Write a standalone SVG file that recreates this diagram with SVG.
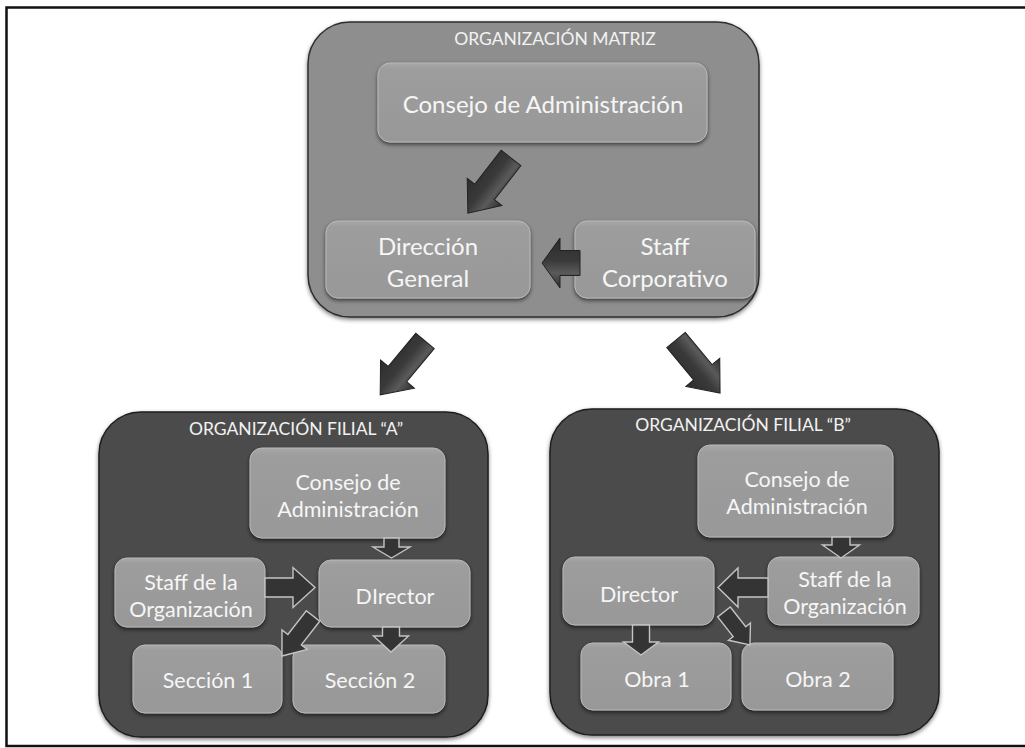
<svg xmlns="http://www.w3.org/2000/svg" width="1025" height="748" viewBox="0 0 1025 748">
  <style>
    .frame { fill: #ffffff; stroke: #111111; stroke-width: 2.5; }
    .org-main { fill: #8e8e8e; stroke: #2e2e2e; stroke-width: 1.5; filter: url(#shadow-lg); }
    .org-sub { fill: #4c4c4c; stroke: #1e1e1e; stroke-width: 1.5; filter: url(#shadow-lg); }
    .box { fill: url(#box-fill); stroke: #b8b8b8; stroke-width: 1; filter: url(#shadow); }
    .title { font-family: Lato, "Liberation Sans", sans-serif; font-size: 17.5px; fill: #f2f2f2; text-anchor: middle; }
    .lbl-lg { font-family: Lato, "Liberation Sans", sans-serif; font-size: 24px; fill: #f6f6f6; text-anchor: middle; }
    .lbl { font-family: Lato, "Liberation Sans", sans-serif; font-size: 21.5px; fill: #f6f6f6; text-anchor: middle; }
    .arrow-big { fill: url(#arrow-fill); stroke: #222222; stroke-width: 1; }
    .arrow-sm { fill: #343434; stroke: #c4c4c4; stroke-width: 1.4; }
  </style>
  <defs>
    <linearGradient id="box-fill" x1="0" y1="0" x2="0" y2="1">
      <stop offset="0" stop-color="#a8a8a8"/>
      <stop offset="0.08" stop-color="#9d9d9d"/>
      <stop offset="1" stop-color="#989898"/>
    </linearGradient>
    <linearGradient id="arrow-fill" x1="0" y1="0" x2="0" y2="1">
      <stop offset="0" stop-color="#2e2e2e"/>
      <stop offset="0.3" stop-color="#5a5a5a"/>
      <stop offset="0.55" stop-color="#3a3a3a"/>
      <stop offset="1" stop-color="#2c2c2c"/>
    </linearGradient>
    <filter id="shadow" x="-10%" y="-10%" width="120%" height="130%">
      <feGaussianBlur in="SourceAlpha" stdDeviation="2"/>
      <feOffset dx="0" dy="2" result="b"/>
      <feComponentTransfer><feFuncA type="linear" slope="0.6"/></feComponentTransfer>
      <feMerge><feMergeNode/><feMergeNode in="SourceGraphic"/></feMerge>
    </filter>
    <filter id="shadow-lg" x="-5%" y="-5%" width="110%" height="112%">
      <feGaussianBlur in="SourceAlpha" stdDeviation="2"/>
      <feOffset dx="0" dy="2" result="b"/>
      <feComponentTransfer><feFuncA type="linear" slope="0.5"/></feComponentTransfer>
      <feMerge><feMergeNode/><feMergeNode in="SourceGraphic"/></feMerge>
    </filter>
  </defs>

  <!-- outer frame (right edge runs off the canvas) -->
  <rect class="frame" x="6.5" y="7.5" width="1030" height="738.5"/>

  <!-- parent organisation -->
  <g id="org-matriz">
    <rect class="org-main" x="308" y="22" width="451" height="295" rx="42"/>
    <text class="title" x="555" y="45">ORGANIZACIÓN MATRIZ</text>
  </g>
  <g id="consejo-matriz">
    <rect class="box" x="378" y="63" width="329" height="79" rx="12"/>
    <text class="lbl-lg" x="543" y="113">Consejo de Administración</text>
  </g>
  <g id="direccion-general">
    <rect class="box" x="326" y="221" width="204" height="77" rx="12"/>
    <text class="lbl-lg" x="428" y="255">Dirección</text>
    <text class="lbl-lg" x="428" y="287">General</text>
  </g>
  <g id="staff-corporativo">
    <rect class="box" x="575" y="221" width="180" height="77" rx="12"/>
    <text class="lbl-lg" x="665" y="255">Staff</text>
    <text class="lbl-lg" x="665" y="287">Corporativo</text>
  </g>

  <!-- subsidiary A -->
  <g id="org-filial-a">
    <rect class="org-sub" x="99" y="412" width="389" height="325" rx="42"/>
    <text class="title" x="296" y="435">ORGANIZACIÓN FILIAL “A”</text>
  </g>
  <g id="consejo-a">
    <rect class="box" x="250" y="448" width="195" height="90" rx="12"/>
    <text class="lbl" x="348" y="490">Consejo de</text>
    <text class="lbl" x="348" y="517">Administración</text>
  </g>
  <g id="director-a">
    <rect class="box" x="319" y="560" width="151" height="67" rx="12"/>
    <text class="lbl" x="395" y="604">DIrector</text>
  </g>
  <g id="staff-a">
    <rect class="box" x="115" y="558" width="150" height="69" rx="12"/>
    <text class="lbl" x="191" y="590">Staff de la</text>
    <text class="lbl" x="191" y="617">Organización</text>
  </g>
  <g id="seccion-1">
    <rect class="box" x="133" y="645" width="149" height="68" rx="12"/>
    <text class="lbl" x="208" y="688">Sección 1</text>
  </g>
  <g id="seccion-2">
    <rect class="box" x="293" y="645" width="152" height="68" rx="12"/>
    <text class="lbl" x="370" y="688">Sección 2</text>
  </g>

  <!-- subsidiary B -->
  <g id="org-filial-b">
    <rect class="org-sub" x="550" y="409" width="389" height="326" rx="42"/>
    <text class="title" x="743" y="431">ORGANIZACIÓN FILIAL “B”</text>
  </g>
  <g id="consejo-b">
    <rect class="box" x="698" y="445" width="195" height="92" rx="12"/>
    <text class="lbl" x="797" y="487">Consejo de</text>
    <text class="lbl" x="797" y="514">Administración</text>
  </g>
  <g id="staff-b">
    <rect class="box" x="768" y="557" width="151" height="68" rx="12"/>
    <text class="lbl" x="845" y="587">Staff de la</text>
    <text class="lbl" x="845" y="614">Organización</text>
  </g>
  <g id="director-b">
    <rect class="box" x="563" y="557" width="151" height="68" rx="12"/>
    <text class="lbl" x="639" y="602">Director</text>
  </g>
  <g id="obra-1">
    <rect class="box" x="581" y="643" width="150" height="67" rx="12"/>
    <text class="lbl" x="657" y="687">Obra 1</text>
  </g>
  <g id="obra-2">
    <rect class="box" x="742" y="643" width="151" height="67" rx="12"/>
    <text class="lbl" x="818" y="687">Obra 2</text>
  </g>

  <!-- connectors: block arrows drawn along +x from the tail, then placed -->
  <g id="connectors">
    <!-- parent organisation -->
    <path class="arrow-big" transform="translate(511,158) rotate(128)" d="M0,-12.5 L43,-12.5 L43,-22 L70,0 L43,22 L43,12.5 L0,12.5 Z"/>
    <path class="arrow-big" transform="translate(580,263) rotate(180)" d="M0,-12.5 L20,-12.5 L20,-25 L38,0 L20,25 L20,12.5 L0,12.5 Z"/>
    <!-- parent to subsidiaries -->
    <path class="arrow-big" transform="translate(425,341) rotate(129.8)" d="M0,-12 L43,-12 L43,-22 L70,0 L43,22 L43,12 L0,12 Z"/>
    <path class="arrow-big" transform="translate(676,340) rotate(50.3)" d="M0,-12 L42,-12 L42,-22 L69,0 L42,22 L42,12 L0,12 Z"/>
    <!-- subsidiary A -->
    <path class="arrow-sm" transform="translate(391.5,538) rotate(90)" d="M0,-7.5 L9,-7.5 L9,-18.5 L20,0 L9,18.5 L9,7.5 L0,7.5 Z"/>
    <path class="arrow-sm" transform="translate(265,587.5) rotate(0)" d="M0,-9.5 L28,-9.5 L28,-20 L50,0 L28,20 L28,9.5 L0,9.5 Z"/>
    <path class="arrow-sm" transform="translate(313,616) rotate(127.8)" d="M0,-8.5 L30,-8.5 L30,-16 L50.6,0 L30,16 L30,8.5 L0,8.5 Z"/>
    <path class="arrow-sm" transform="translate(391,627) rotate(90)" d="M0,-8.5 L9,-8.5 L9,-17.5 L25,0 L9,17.5 L9,8.5 L0,8.5 Z"/>
    <!-- subsidiary B -->
    <path class="arrow-sm" transform="translate(841,537) rotate(90)" d="M0,-9 L8,-9 L8,-18.5 L21,0 L8,18.5 L8,9 L0,9 Z"/>
    <path class="arrow-sm" transform="translate(768,587.5) rotate(180)" d="M0,-9.5 L30,-9.5 L30,-19.5 L50,0 L30,19.5 L30,9.5 L0,9.5 Z"/>
    <path class="arrow-sm" transform="translate(641,625) rotate(90)" d="M0,-8.5 L17,-8.5 L17,-17.5 L30,0 L17,17.5 L17,8.5 L0,8.5 Z"/>
    <path class="arrow-sm" transform="translate(724,612) rotate(51.8)" d="M0,-8 L25,-8 L25,-14 L42,0 L25,14 L25,8 L0,8 Z"/>
  </g>
</svg>
